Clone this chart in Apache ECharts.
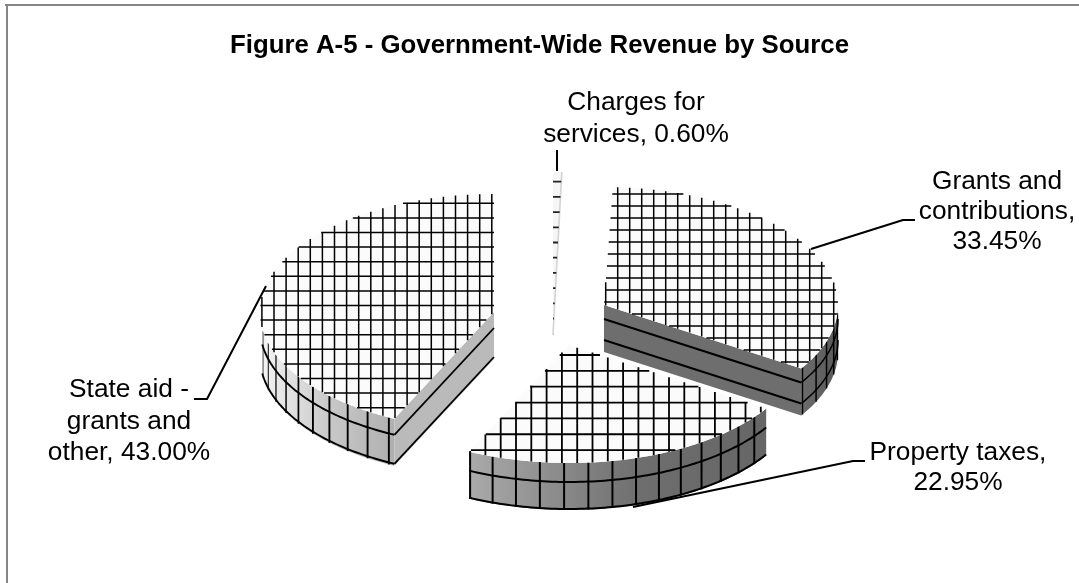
<!DOCTYPE html>
<html>
<head>
<meta charset="utf-8">
<style>html,body{margin:0;padding:0;background:#fff}#c{width:1079px;height:583px}</style>
<script src="https://cdn.jsdelivr.net/npm/echarts@6/dist/echarts.min.js"></script>
</head>
<body>
<div id="c"></div>
<script>
var titleText = 'Figure A-5 - Government-Wide Revenue by Source';
var categories = ['Charges for services', 'Grants and contributions', 'Property taxes', 'State aid - grants and other'];
var values = [0.60, 33.45, 22.95, 43.00];
var labelLines = [
  ['Charges for', 'services, 0.60%'],
  ['Grants and', 'contributions,', '33.45%'],
  ['Property taxes,', '22.95%'],
  ['State aid -', 'grants and', 'other, 43.00%']
];

// Drawing layout of the exploded, tilted pie (not data).
var FONT = '"Liberation Sans", Arial, sans-serif';
var layout = [
  { cx:553, cy:335, rx:234, ry:163, z:10, hatch:{x0:null, sx:0, y0:181.7, sy:15.2, w:1.8, color:'#222'}, top:'#f6f6f6', edge:'#d4d4d4',
    label:{x:636, y:103, lh:32}, leader:[[557,150],[557,171]] },
  { cx:604, cy:305, rx:234, ry:118, z:30, hatch:{x0:617.7, sx:12, y0:194, sy:12, w:1.5, color:'#000'}, top:'#fbfbfb', h:47,
    wall:{from:90, to:null, stops:[[802,'#6b6b6b'],[838,'#5a5a5a']], lines:[14,35], tick:122, step:-7, w:1.5}, face:{color:'#6e6e6e', lines:[14,35], w:2},
    label:{x:997, y:182, lh:30}, leader:[[811,249],[903,220],[915,220]] },
  { cx:569, cy:345, rx:234, ry:118, z:20, hatch:{x0:500.7, sx:15.3, y0:355, sy:15.85, w:1.8, color:'#000'}, top:'#fbfbfb', h:47,
    wall:{from:null, to:null, stops:[[470,'#aaaaaa'],[640,'#6e6e6e'],[765,'#666666']], lines:[19,46], tick:205, step:-5.95, w:2},
    label:{x:958, y:453, lh:30}, leader:[[633,507],[853,461],[865,461]] },
  { cx:494, cy:312, rx:234, ry:118, z:40, hatch:{x0:274, sx:12.1, y0:203.3, sy:14.6, w:1.5, color:'#000'}, top:'#fbfbfb', h:47,
    wall:{from:null, to:262, stops:[[393,'#b0b0b0'],[330,'#c8c8c8'],[262,'#f4f4f4']], lines:[16,45], tick:206.7, step:6, w:1.9, thinFrom:232, thinTo:262}, face:{color:'#bababa', lines:[16,45], w:1.8},
    label:{x:129, y:390, lh:31.5}, leader:[[266,286],[207,399],[194,399]] }
];

var total = values.reduce(function (a, b) { return a + b; }, 0);
var RAD = Math.PI / 180;

function rimPoint(L, deg, dy) {
  return [L.cx + L.rx * Math.sin(deg * RAD), L.cy - L.ry * Math.cos(deg * RAD) + (dy || 0)];
}
function arcPoints(L, a, b, dy) {
  var pts = [], n = Math.max(2, Math.ceil(Math.abs(b - a) / 1));
  for (var i = 0; i <= n; i++) pts.push(rimPoint(L, a + (b - a) * i / n, dy));
  return pts;
}
function hatchPath(poly, h) {
  var xs = poly.map(function (p) { return p[0]; }), ys = poly.map(function (p) { return p[1]; });
  var minX = Math.min.apply(null, xs), maxX = Math.max.apply(null, xs);
  var minY = Math.min.apply(null, ys), maxY = Math.max.apply(null, ys);
  var d = '';
  function cross(axis, v) {
    var o = 1 - axis, hit = [];
    for (var i = 0; i < poly.length; i++) {
      var p = poly[i], q = poly[(i + 1) % poly.length];
      if ((p[axis] <= v) !== (q[axis] <= v)) {
        hit.push(p[o] + (q[o] - p[o]) * (v - p[axis]) / (q[axis] - p[axis]));
      }
    }
    return hit.sort(function (a, b) { return a - b; });
  }
  if (h.x0 !== null) {
    var x = h.x0 - Math.ceil((h.x0 - minX) / h.sx) * h.sx;
    for (; x <= maxX; x += h.sx) {
      var c = cross(0, x);
      for (var i = 0; i + 1 < c.length; i += 2) d += 'M' + x.toFixed(2) + ' ' + c[i].toFixed(2) + 'L' + x.toFixed(2) + ' ' + c[i + 1].toFixed(2);
    }
  }
  var y = h.y0 - Math.ceil((h.y0 - minY) / h.sy) * h.sy;
  for (; y <= maxY; y += h.sy) {
    var e = cross(1, y);
    for (var j = 0; j + 1 < e.length; j += 2) d += 'M' + e[j].toFixed(2) + ' ' + y.toFixed(2) + 'L' + e[j + 1].toFixed(2) + ' ' + y.toFixed(2);
  }
  return d;
}
function poly(points, fill, z2) {
  return { type:'polygon', z2:z2, shape:{points:points}, style:{fill:fill, stroke:null} };
}
function line(points, w, z2, color) {
  return { type:'polyline', z2:z2, shape:{points:points}, style:{fill:null, stroke:color || '#000', lineWidth:w, lineJoin:'round'} };
}

function renderSlice(params, api) {
  var i = params.dataIndex, L = layout[i], kids = [];
  var before = 0;
  for (var k = 0; k < i; k++) before += values[k];
  var a0 = before / total * 360, a1 = (before + api.value(0)) / total * 360;
  var z = L.z;

  if (L.wall) {
    var W = L.wall;
    var from = W.from !== null ? W.from : a0, to = W.to !== null ? W.to : a1;
    var top = arcPoints(L, from, to, 0), bottom = arcPoints(L, to, from, L.h);
    var x0 = W.stops[0][0], x1 = W.stops[W.stops.length - 1][0];
    var stops = W.stops.map(function (s) { return { offset:(s[0] - x0) / (x1 - x0), color:s[1] }; });
    kids.push(poly(top.concat(bottom), new echarts.graphic.LinearGradient(x0, 0, x1, 0, stops, true), z));
    W.lines.forEach(function (d) { kids.push(line(arcPoints(L, from, to, d), W.w, z + 1)); });
    for (var t = W.tick; t >= from - 1e-6 && t <= to + 1e-6; t += W.step) {
      var tw = W.w;
      if (W.thinFrom && t > W.thinFrom) tw = W.w * (1 - 0.65 * (t - W.thinFrom) / (W.thinTo - W.thinFrom));
      kids.push(line([rimPoint(L, t, 0), rimPoint(L, t, L.h)], tw, z + 1));
    }
  }
  var apex = [L.cx, L.cy];
  if (L.face) {
    var edgeDeg = (i === 1) ? a1 : a0;
    var rim = rimPoint(L, edgeDeg, 0);
    kids.push(poly([apex, rim, [rim[0], rim[1] + L.h], [apex[0], apex[1] + L.h]], L.face.color, z + 2));
    L.face.lines.forEach(function (d) {
      kids.push(line([[apex[0], apex[1] + d], [rim[0], rim[1] + d]], L.face.w, z + 3));
    });
  }
  var topFace = [apex].concat(arcPoints(L, a0, a1, 0));
  kids.push(poly(topFace, L.top, z + 4));
  kids.push({ type:'path', z2:z + 5, shape:{pathData:hatchPath(topFace, L.hatch)},
    style:{fill:null, stroke:L.hatch.color, lineWidth:L.hatch.w} });
  if (L.edge) kids.push(line([apex, rimPoint(L, a1, 0)], 1.6, z + 4, L.edge));

  kids.push(line(L.leader, 2, 60));
  labelLines[i].forEach(function (txt, n) {
    kids.push({ type:'text', z2:61, style:{ x:L.label.x, y:L.label.y + n * L.label.lh, text:txt,
      textAlign:'center', textVerticalAlign:'middle', fill:'#000', font:'26.3px ' + FONT } });
  });
  return { type:'group', children:kids };
}

var chart = echarts.init(document.getElementById('c'), null, { renderer:'canvas' });
chart.setOption({
  animation:false,
  backgroundColor:'#ffffff',
  title:{ text:titleText, left:'center', top:28, textStyle:{ fontFamily:FONT, fontWeight:'bold', fontSize:25.8, color:'#000' } },
  graphic:[
    { type:'line', shape:{x1:5, y1:5, x2:1079, y2:5}, style:{stroke:'#868686', lineWidth:2} },
    { type:'line', shape:{x1:7, y1:4, x2:7, y2:583}, style:{stroke:'#868686', lineWidth:2} }
  ],
  series:[{
    type:'custom',
    coordinateSystem:'none',
    silent:true,
    renderItem:renderSlice,
    data:categories.map(function (n, i) { return { name:n, value:[values[i]] }; })
  }]
});
</script>
</body>
</html>
